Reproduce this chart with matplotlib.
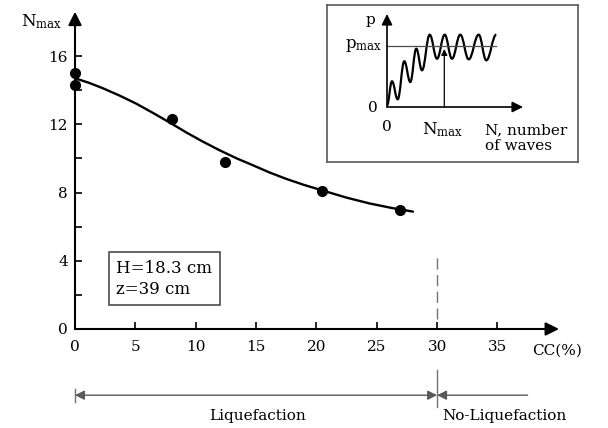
import matplotlib
matplotlib.use('Agg')
import matplotlib.pyplot as plt
from matplotlib.path import Path
from matplotlib.patches import PathPatch

plt.rcParams['font.family'] = 'DejaVu Serif'
plt.rcParams['mathtext.fontset'] = 'dejavuserif'
plt.rcParams['font.size'] = 11

# measured points
cc_pts = [0, 0, 8.0, 12.4, 20.5, 26.9]
nmax_pts = [15.0, 14.3, 12.3, 9.8, 8.1, 7.0]

# fitted curve
cc_fit = [0, 1.2, 2.35, 3.7, 5.1, 6.5, 7.9, 9.2, 10.6, 12.0, 13.4, 14.8, 16.1, 17.5, 19.0, 20.6, 22.5, 24.4, 26.2, 28.0]
nmax_fit = [14.7, 14.42, 14.1, 13.68, 13.2, 12.65, 12.08, 11.53, 10.98, 10.47, 10.0, 9.58, 9.18, 8.8, 8.44, 8.1, 7.7, 7.36, 7.1, 6.88]

xticks = [0, 5, 10, 15, 20, 25, 30, 35]
yticks = [0, 4, 8, 12, 16]

# inset sketch: wave extrema (pixel-like units)
wave_x = [0, 5, 10.7, 17.3, 23.3, 29.3, 35, 42.7, 50, 57.7, 65, 73.3, 81.7, 91.7, 99.3, 109.3]
wave_y = [1.7, 25.7, 7.7, 45.7, 25, 58.3, 36.7, 72.3, 48.3, 72.3, 48.3, 72.3, 47.7, 72.3, 46.7, 72.3]
p_max = 60.7
n_max = 57.3

fig = plt.figure(figsize=(6.08, 4.28), dpi=100)
ax = fig.add_axes([75/608, 99/428, 40.5*12.07/608, 19*17.06/428])
ax.set_xlim(0, 40.5)
ax.set_ylim(0, 19)
for s in ax.spines.values():
    s.set_visible(False)

ax.plot(cc_fit, nmax_fit, color='k', lw=1.7, solid_capstyle='round')
ax.plot(cc_pts, nmax_pts, 'o', color='k', ms=7, clip_on=False)

ax.set_xticks(xticks)
ax.set_yticks(yticks)
ax.set_yticks(range(0, 17, 2), minor=True)
ax.tick_params(direction='in', length=5, width=1.2, labelsize=11)
ax.tick_params(axis='x', pad=8)
ax.tick_params(axis='y', pad=5)
ax.tick_params(which='minor', direction='in', length=5, width=1.2)

arr = dict(arrowstyle='-|>', lw=1.5, color='k', mutation_scale=20, shrinkA=0, shrinkB=0)
ax.annotate('', xy=(40.1, 0), xytext=(0, 0), arrowprops=arr, annotation_clip=False)
ax.annotate('', xy=(0, 18.6), xytext=(0, 0), arrowprops=arr, annotation_clip=False)

ax.text(-2.8, 18.0, r'N$_{\rm max}$', ha='center', va='center', fontsize=12, clip_on=False)
ax.text(39.9, -1.25, 'CC(%)', ha='center', va='center', fontsize=11, clip_on=False)

ax.text(3.4, 2.95, 'H=18.3 cm\nz=39 cm', ha='left', va='center', fontsize=12,
        linespacing=1.3,
        bbox=dict(boxstyle='square,pad=0.45', fc='white', ec='0.3', lw=1.2))

# boundary at 30 %
ax.plot([30, 30], [0.6, 4.2], color='0.45', lw=1, dashes=(8, 4))
ax.plot([30, 30], [-2.4, -4.6], color='0.45', lw=1, clip_on=False)
ax.plot([0, 0], [-3.5, -4.3], color='0.45', lw=1, clip_on=False)

arr2 = dict(arrowstyle='<|-|>', lw=1, color='0.35', mutation_scale=14, shrinkA=0, shrinkB=0)
ax.annotate('', xy=(30, -3.88), xytext=(0, -3.88), arrowprops=arr2, annotation_clip=False)
arr3 = dict(arrowstyle='-|>', lw=1, color='0.35', mutation_scale=14, shrinkA=0, shrinkB=0)
ax.annotate('', xy=(30, -3.88), xytext=(37.5, -3.88), arrowprops=arr3, annotation_clip=False)
ax.text(15.1, -5.1, 'Liquefaction', ha='center', va='center', fontsize=11, clip_on=False)
ax.text(35.6, -5.1, 'No-Liquefaction', ha='center', va='center', fontsize=11, clip_on=False)

# inset
ins = fig.add_axes([327/608, (428-162)/428, 251/608, 157/428])
ins.set_xlim(-60, 191)
ins.set_ylim(-55, 102)
ins.set_xticks([])
ins.set_yticks([])
for s in ins.spines.values():
    s.set_color('0.35')
    s.set_linewidth(1.2)

verts = [(wave_x[0], wave_y[0])]
codes = [Path.MOVETO]
for i in range(1, len(wave_x)):
    x0, y0 = wave_x[i-1], wave_y[i-1]
    x1, y1 = wave_x[i], wave_y[i]
    dx = x1 - x0
    verts += [(x0 + 0.4*dx, y0), (x1 - 0.4*dx, y1), (x1, y1)]
    codes += [Path.CURVE4]*3
ins.add_patch(PathPatch(Path(verts, codes), fc='none', ec='k', lw=1.6))

ins.plot([0, 109], [p_max, p_max], color='0.3', lw=0.9)
ins.annotate('', xy=(n_max, 58), xytext=(n_max, 0),
             arrowprops=dict(arrowstyle='-|>', lw=0.9, color='k', mutation_scale=9, shrinkA=0, shrinkB=0))
ins.annotate('', xy=(136, 0), xytext=(0, 0), arrowprops=dict(arr, lw=1.2, mutation_scale=16))
ins.annotate('', xy=(0, 93), xytext=(0, 0), arrowprops=dict(arr, lw=1.2, mutation_scale=16))

ins.text(-17, 87, 'p', ha='center', va='center', fontsize=11)
ins.text(-5, 62, r'p$_{\rm max}$', ha='right', va='center', fontsize=12)
ins.text(-14, -1, '0', ha='center', va='center', fontsize=11)
ins.text(0, -20, '0', ha='center', va='center', fontsize=11)
ins.text(56, -23, r'N$_{\rm max}$', ha='center', va='center', fontsize=12)
ins.text(98, -31, 'N, number\nof waves', ha='left', va='center', fontsize=11, linespacing=1.1)

fig.savefig('out.png', dpi=100)
